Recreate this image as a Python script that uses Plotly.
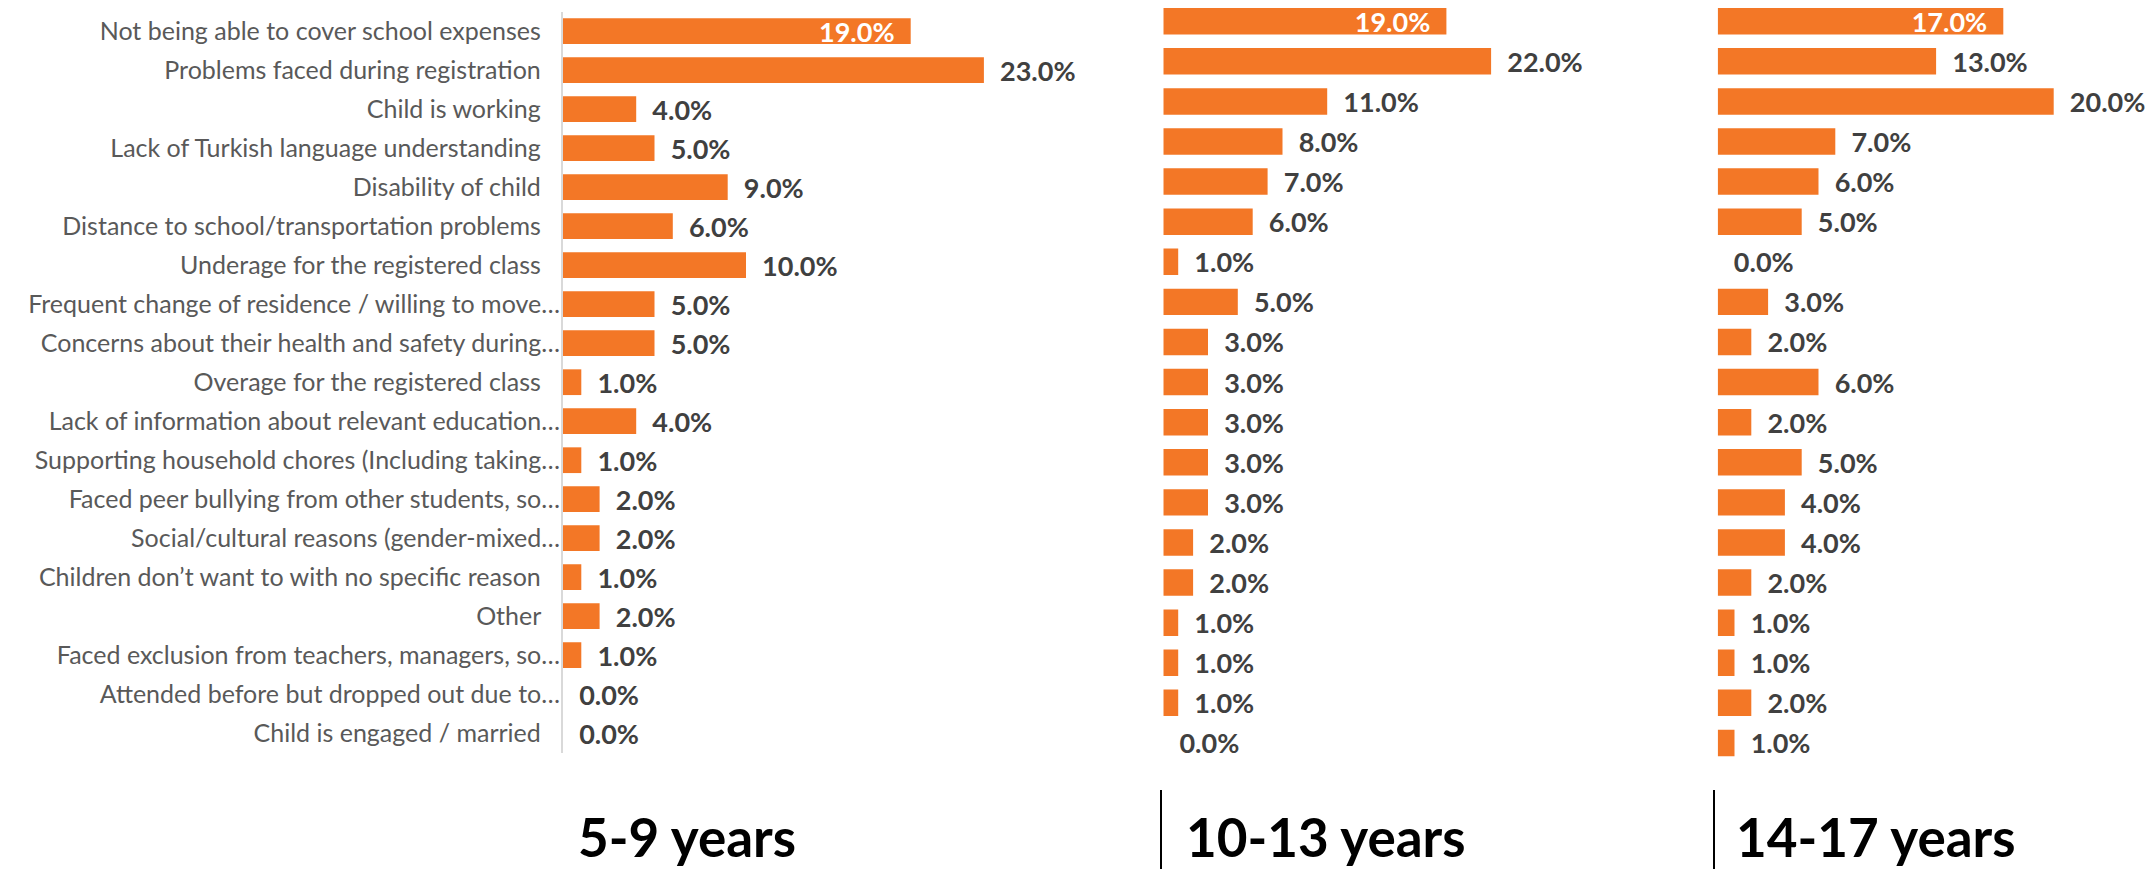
import plotly.graph_objects as go

categories = [
    "Not being able to cover school expenses",
    "Problems faced during registration",
    "Child is working",
    "Lack of Turkish language understanding",
    "Disability of child",
    "Distance to school/transportation problems",
    "Underage for the registered class",
    "Frequent change of residence / willing to move…",
    "Concerns about their health and safety during…",
    "Overage for the registered class",
    "Lack of information about relevant education…",
    "Supporting household chores (Including taking…",
    "Faced peer bullying from other students, so…",
    "Social/cultural reasons (gender-mixed…",
    "Children don’t want to with no specific reason",
    "Other",
    "Faced exclusion from teachers, managers, so…",
    "Attended before but dropped out due to…",
    "Child is engaged / married",
]

age_5_9 = [19, 23, 4, 5, 9, 6, 10, 5, 5, 1, 4, 1, 2, 2, 1, 2, 1, 0, 0]
age_10_13 = [19, 22, 11, 8, 7, 6, 1, 5, 3, 3, 3, 3, 3, 2, 2, 1, 1, 1, 0]
age_14_17 = [17, 13, 20, 7, 6, 5, 0, 3, 2, 6, 2, 5, 4, 4, 2, 1, 1, 2, 1]

panel_titles = ["5-9 years", "10-13 years", "14-17 years"]

W, H = 2156, 869
ORANGE = "#F37726"
LABEL_GREY = "#404040"
CAT_GREY = "#595959"
NB = "\u00a0"


def px_x(p):
    return p / W


def px_y(p):
    return 1 - p / H


def bar_trace(values, xa, ya):
    texts, positions, colors = [], [], []
    for i, v in enumerate(values):
        s = f"{v:.1f}%"
        if i == 0:
            texts.append(s + NB * 2)
            positions.append("inside")
            colors.append("white")
        else:
            texts.append(NB * 2 + s)
            positions.append("outside")
            colors.append(LABEL_GREY)
    return go.Bar(
        x=values,
        y=categories,
        orientation="h",
        marker=dict(color=ORANGE, line=dict(width=0)),
        text=texts,
        textposition=positions,
        insidetextanchor="end",
        constraintext="none",
        textfont=dict(family="Lato", size=27, color=colors, weight="bold"),
        cliponaxis=False,
        xaxis=xa,
        yaxis=ya,
        showlegend=False,
        hoverinfo="skip",
    )


fig = go.Figure()
fig.add_trace(bar_trace(age_5_9, "x", "y"))
fig.add_trace(bar_trace(age_10_13, "x2", "y2"))
fig.add_trace(bar_trace(age_14_17, "x3", "y3"))

ticktext = [c if c.endswith("…") else c + NB * 3 for c in categories]

xcommon = dict(range=[0, 25], showgrid=False, zeroline=False, showticklabels=False,
               showline=False, ticks="", fixedrange=True)
ycommon = dict(type="category", categoryorder="array", categoryarray=categories,
               range=[18.5, -0.5], showgrid=False, zeroline=False, ticks="")

fig.update_layout(
    width=W,
    height=H,
    margin=dict(l=0, r=0, t=0, b=0),
    paper_bgcolor="white",
    plot_bgcolor="white",
    bargap=0.34,
    xaxis=dict(domain=[px_x(563), px_x(563 + 25 * 18.3)], anchor="y", **xcommon),
    xaxis2=dict(domain=[px_x(1163.3), px_x(1163.3 + 25 * 14.9)], anchor="y2", **xcommon),
    xaxis3=dict(domain=[px_x(1717.7), px_x(1717.7 + 25 * 16.8)], anchor="y3", **xcommon),
    yaxis=dict(domain=[px_y(752.7), px_y(11.7)], anchor="x", showline=True,
               linecolor="#d9d9d9", linewidth=2, showticklabels=True,
               tickvals=categories, ticktext=ticktext, ticklabelstandoff=-4,
               tickfont=dict(family="Lato", size=25, color=CAT_GREY), **ycommon),
    yaxis2=dict(domain=[px_y(763), px_y(1.15)], anchor="x2", showline=False,
                showticklabels=False, **ycommon),
    yaxis3=dict(domain=[px_y(763), px_y(1.15)], anchor="x3", showline=False,
                showticklabels=False, **ycommon),
)

title_x = [576, 1184, 1734]
for t, xp in zip(panel_titles, title_x):
    fig.add_annotation(text=t, x=px_x(xp), y=px_y(836), xref="paper", yref="paper",
                       xanchor="left", yanchor="middle", showarrow=False,
                       font=dict(family="Lato", size=53, color="black", weight="bold"))

for xp in [1161, 1714]:
    fig.add_shape(type="line", xref="paper", yref="paper",
                  x0=px_x(xp), x1=px_x(xp), y0=px_y(790), y1=0,
                  line=dict(color="black", width=2))

fig.write_html(
    "out.html",
    config={"displayModeBar": False},
    post_script="document.body.style.margin='0';document.body.style.overflow='hidden';",
)
